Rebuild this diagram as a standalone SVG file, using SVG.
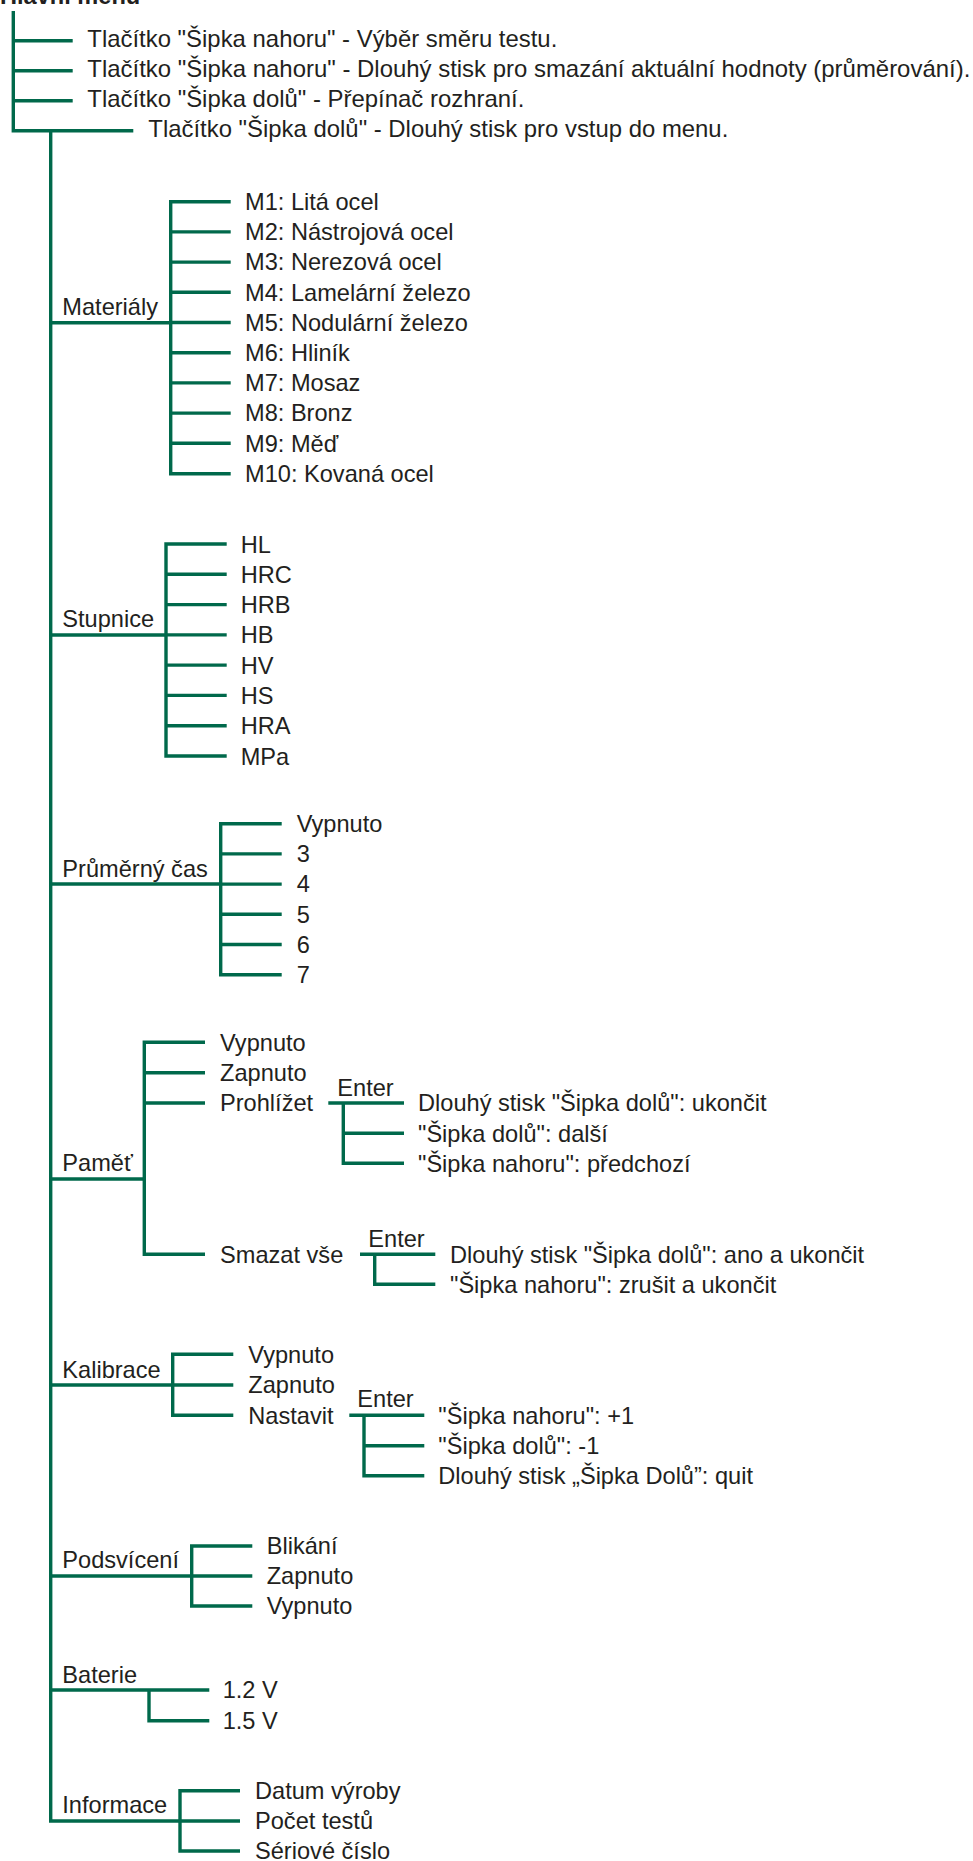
<svg xmlns="http://www.w3.org/2000/svg" width="973" height="1861" viewBox="0 0 973 1861">
<style>
.ln{fill:none;stroke:#00694b;stroke-width:3.4;stroke-linejoin:miter;stroke-linecap:butt}
text{font-family:"Liberation Sans",Arial,Helvetica,sans-serif;font-size:23.6px;fill:#231f20}
.b{font-weight:bold}
</style>
<rect width="973" height="1861" fill="#fff"/>
<g id="connectors" class="ln">
<path d="M13.3,11 V130.7 H133.3 M13.3,40.7 H72.7 M13.3,70.7 H72.7 M13.3,100.7 H72.7"/>
<path d="M50.7,130.7 V1821 H180"/>
<path d="M50.7,322.7 H170.7"/>
<path d="M230.7,201.7 H170.7 V473.7 H230.7 M170.7,231.9 H230.7 M170.7,262.1 H230.7 M170.7,292.3 H230.7 M170.7,322.5 H230.7 M170.7,352.7 H230.7 M170.7,382.9 H230.7 M170.7,413.1 H230.7 M170.7,443.3 H230.7"/>
<path d="M50.7,635 H166"/>
<path d="M226.7,544 H166 V756 H226.7 M166,574.3 H226.7 M166,604.6 H226.7 M166,634.9 H226.7 M166,665.1 H226.7 M166,695.4 H226.7 M166,725.7 H226.7"/>
<path d="M50.7,884 H220.7"/>
<path d="M281.7,823.7 H220.7 V974.7 H281.7 M220.7,853.9 H281.7 M220.7,884.1 H281.7 M220.7,914.3 H281.7 M220.7,944.5 H281.7"/>
<path d="M50.7,1179 H144.3"/>
<path d="M205,1042.3 H144.3 V1254.3 H205 M144.3,1072.7 H205 M144.3,1103 H205"/>
<path d="M328.3,1103 H404 M343.3,1103 V1163.3 H404 M343.3,1133.3 H404"/>
<path d="M360,1254.3 H435.3 M374.7,1254.3 V1284.3 H435.3"/>
<path d="M50.7,1385 H172.7"/>
<path d="M233.3,1354.3 H172.7 V1415.3 H233.3 M172.7,1385 H233.3"/>
<path d="M349.3,1415.3 H424.3 M364,1415.3 V1475.7 H424.3 M364,1445.7 H424.3"/>
<path d="M50.7,1576 H191.7"/>
<path d="M252.3,1546 H191.7 V1606 H252.3 M191.7,1576 H252.3"/>
<path d="M50.7,1690 H209.3 M149,1690 V1720.7 H209.3"/>
<path d="M240,1790.7 H180 V1851 H240 M180,1821 H240"/>
</g>
<g id="root">
<text class="b" x="0" y="3.5">Hlavní menu</text>
</g>
<g id="buttons">
<text x="87.3" y="46.5" textLength="470" lengthAdjust="spacingAndGlyphs">Tlačítko "Šipka nahoru" - Výběr směru testu.</text>
<text x="87.3" y="76.5" textLength="883" lengthAdjust="spacingAndGlyphs">Tlačítko "Šipka nahoru" - Dlouhý stisk pro smazání aktuální hodnoty (průměrování).</text>
<text x="87.3" y="106.5" textLength="437" lengthAdjust="spacingAndGlyphs">Tlačítko "Šipka dolů" - Přepínač rozhraní.</text>
<text x="148.3" y="137" textLength="580" lengthAdjust="spacingAndGlyphs">Tlačítko "Šipka dolů" - Dlouhý stisk pro vstup do menu.</text>
</g>
<g id="materialy">
<text x="62.3" y="315">Materiály</text>
<text x="245" y="210">M1: Litá ocel</text>
<text x="245" y="240.2">M2: Nástrojová ocel</text>
<text x="245" y="270.4">M3: Nerezová ocel</text>
<text x="245" y="300.6">M4: Lamelární železo</text>
<text x="245" y="330.8">M5: Nodulární železo</text>
<text x="245" y="361">M6: Hliník</text>
<text x="245" y="391.2">M7: Mosaz</text>
<text x="245" y="421.4">M8: Bronz</text>
<text x="245" y="451.6">M9: Měď</text>
<text x="245" y="481.8">M10: Kovaná ocel</text>
</g>
<g id="stupnice">
<text x="62.3" y="626.7">Stupnice</text>
<text x="240.7" y="552.5">HL</text>
<text x="240.7" y="582.8">HRC</text>
<text x="240.7" y="613.1">HRB</text>
<text x="240.7" y="643.4">HB</text>
<text x="240.7" y="673.6">HV</text>
<text x="240.7" y="703.9">HS</text>
<text x="240.7" y="734.2">HRA</text>
<text x="240.7" y="764.5">MPa</text>
</g>
<g id="prumerny-cas">
<text x="62.3" y="876.7">Průměrný čas</text>
<text x="296.7" y="832">Vypnuto</text>
<text x="296.7" y="862.2">3</text>
<text x="296.7" y="892.4">4</text>
<text x="296.7" y="922.6">5</text>
<text x="296.7" y="952.8">6</text>
<text x="296.7" y="983">7</text>
</g>
<g id="pamet">
<text x="62.3" y="1170.7">Paměť</text>
<text x="220" y="1050.5">Vypnuto</text>
<text x="220" y="1081">Zapnuto</text>
<text x="220" y="1111.3">Prohlížet</text>
<text x="337.3" y="1096">Enter</text>
<text x="418" y="1111.3">Dlouhý stisk "Šipka dolů": ukončit</text>
<text x="418" y="1141.6">"Šipka dolů": další</text>
<text x="418" y="1171.6">"Šipka nahoru": předchozí</text>
<text x="220" y="1262.6">Smazat vše</text>
<text x="368.3" y="1246.7">Enter</text>
<text x="450" y="1262.6">Dlouhý stisk "Šipka dolů": ano a ukončit</text>
<text x="450" y="1292.6">"Šipka nahoru": zrušit a ukončit</text>
</g>
<g id="kalibrace">
<text x="62.3" y="1377.7">Kalibrace</text>
<text x="248.3" y="1362.6">Vypnuto</text>
<text x="248.3" y="1393.3">Zapnuto</text>
<text x="248.3" y="1423.6">Nastavit</text>
<text x="357.3" y="1407.3">Enter</text>
<text x="438.3" y="1423.6">"Šipka nahoru": +1</text>
<text x="438.3" y="1454">"Šipka dolů": -1</text>
<text x="438.3" y="1484">Dlouhý stisk „Šipka Dolů”: quit</text>
</g>
<g id="podsviceni">
<text x="62.3" y="1568.3">Podsvícení</text>
<text x="266.7" y="1554.3">Blikání</text>
<text x="266.7" y="1584.3">Zapnuto</text>
<text x="266.7" y="1614.3">Vypnuto</text>
</g>
<g id="baterie">
<text x="62.3" y="1682.7">Baterie</text>
<text x="222.7" y="1698.3">1.2 V</text>
<text x="222.7" y="1729">1.5 V</text>
</g>
<g id="informace">
<text x="62.3" y="1813.3">Informace</text>
<text x="255" y="1799">Datum výroby</text>
<text x="255" y="1829.3">Počet testů</text>
<text x="255" y="1859.3">Sériové číslo</text>
</g>
</svg>
